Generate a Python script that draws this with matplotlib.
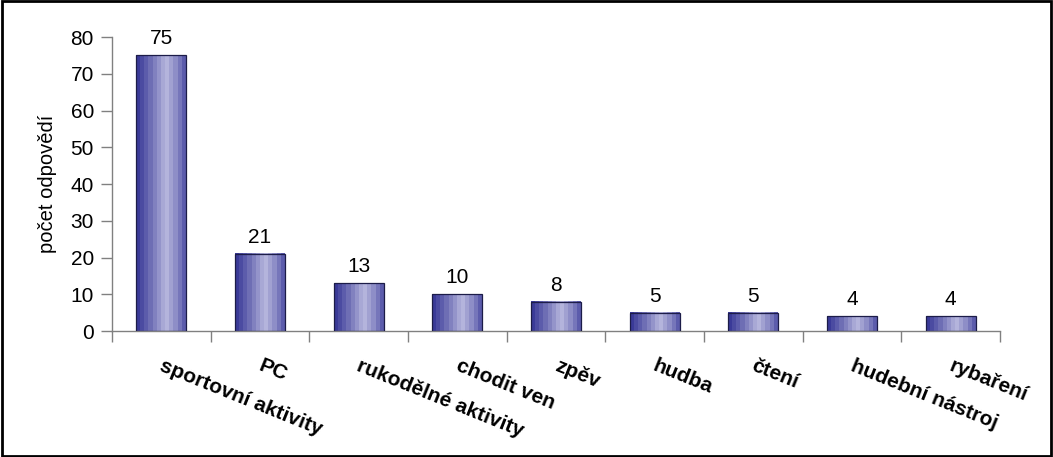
import matplotlib
matplotlib.use("Agg")
import matplotlib.pyplot as plt
import numpy as np
from matplotlib.colors import LinearSegmentedColormap
from matplotlib.patches import Rectangle

categories = ["sportovní aktivity", "PC", "rukodělné aktivity", "chodit ven", "zpěv",
              "hudba", "čtení", "hudební nástroj", "rybaření"]
values = [75, 21, 13, 10, 8, 5, 5, 4, 4]
y_ticks = [0, 10, 20, 30, 40, 50, 60, 70, 80]
y_label = "počet odpovědí"

plt.rcParams['font.family'] = ['Liberation Sans', 'DejaVu Sans']

fig = plt.figure(figsize=(10.53, 4.57), dpi=100)
ax = fig.add_axes([0.1064, 0.2757, 0.8433, 0.6433])

x = np.arange(len(categories))
bars = ax.bar(x, values, width=0.505, color='none', edgecolor='#1c1c48', linewidth=0.9, zorder=3)

cmap = LinearSegmentedColormap.from_list(
    "grad", [(0.0, '#3a3a98'), (0.3, '#7474b8'), (0.62, '#b8b8de'), (0.85, '#8888c4'), (1.0, '#5c5cac')])
grad = np.linspace(0, 1, 12).reshape(1, -1)
for b in bars:
    x0, y0 = b.get_x(), b.get_y()
    w, h = b.get_width(), b.get_height()
    ax.imshow(grad, cmap=cmap, aspect='auto', extent=(x0, x0 + w, y0, y0 + h),
              interpolation='nearest', zorder=2)

for xi, v in zip(x, values):
    ax.annotate(str(v), xy=(xi, v), xytext=(0, 5), textcoords='offset points',
                ha='center', va='bottom', fontsize=15, color='black')

ax.set_xlim(-0.5, len(categories) - 0.5)
ax.set_ylim(0, 80)
ax.set_yticks(y_ticks)
ax.set_yticklabels([str(t) for t in y_ticks], fontsize=15)
ax.set_ylabel(y_label, fontsize=14.5, labelpad=10)

ax.set_xticks(np.arange(len(categories) + 1) - 0.5)
ax.set_xticklabels([])
ax.tick_params(axis='x', length=8, color='#808080', width=1)
ax.tick_params(axis='y', length=8, color='#808080', width=1, pad=5)

for xi, c in zip(x, categories):
    ax.annotate(c, xy=(xi, 0), xycoords='data', xytext=(-2, -28), textcoords='offset points',
                rotation=-22, rotation_mode='anchor', ha='left', va='baseline',
                fontsize=15, fontweight='bold', annotation_clip=False)

for s in ['top', 'right']:
    ax.spines[s].set_visible(False)
for s in ['left', 'bottom']:
    ax.spines[s].set_color('#808080')
    ax.spines[s].set_linewidth(1)

fig.patches.append(Rectangle((0.002, 0.003), 0.996, 0.994, transform=fig.transFigure,
                             fill=False, edgecolor='black', linewidth=2))

fig.savefig("out.png", dpi=100)
